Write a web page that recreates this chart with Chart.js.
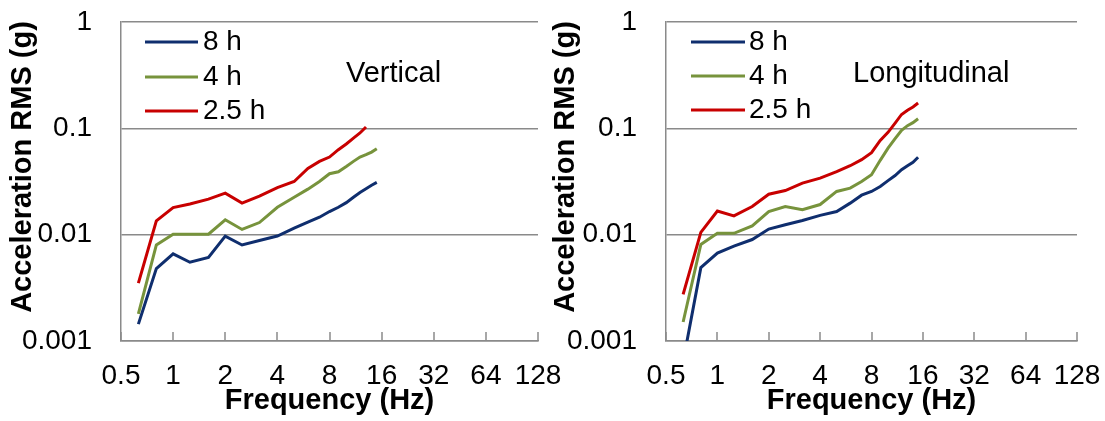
<!DOCTYPE html>
<html><head><meta charset="utf-8">
<script src="https://cdn.jsdelivr.net/npm/chart.js@4.4.1/dist/chart.umd.min.js"></script>
<style>
html,body{margin:0;padding:0;background:#fff;}
#wrap{position:relative;width:1105px;height:421px;overflow:hidden;background:#fff;}
canvas{position:absolute;top:0;}
</style></head><body>
<div id="wrap">
<canvas id="c1" width="570" height="421" style="left:0px"></canvas>
<canvas id="c2" width="560" height="421" style="left:545px"></canvas>
</div>
<script>
// ---- data ----
const freqHz = [0.63, 0.8, 1, 1.25, 1.6, 2, 2.5, 3.15, 4, 5, 6, 7, 8, 9, 10, 11, 12, 13, 14, 15];
const xTickValues = [0.5, 1, 2, 4, 8, 16, 32, 64, 128];
const xTickLabels = ['0.5', '1', '2', '4', '8', '16', '32', '64', '128'];
const yTickValues = [0.001, 0.01, 0.1, 1];
const yTickLabels = ['0.001', '0.01', '0.1', '1'];
const seriesNames = ['8 h', '4 h', '2.5 h'];

const vertical8h   = [0.00144, 0.0048, 0.0066, 0.0055, 0.0061, 0.0097, 0.0080, 0.0088, 0.0097, 0.0115, 0.0131, 0.0146, 0.0165, 0.0181, 0.0200, 0.0225, 0.0249, 0.0270, 0.0292, 0.0310];
const vertical4h   = [0.0018, 0.0080, 0.0101, 0.0101, 0.0101, 0.0138, 0.0112, 0.0130, 0.0181, 0.0225, 0.0268, 0.0316, 0.0374, 0.0390, 0.0438, 0.0489, 0.0537, 0.0565, 0.0598, 0.0643];
const vertical2_5h = [0.0035, 0.0135, 0.0180, 0.0194, 0.0216, 0.0246, 0.0198, 0.0230, 0.0277, 0.0316, 0.0420, 0.0489, 0.0537, 0.0630, 0.0713, 0.0810, 0.0905, 0.1030, null, null];

const longitudinal8h   = [0.00064, 0.0049, 0.0067, 0.0078, 0.0090, 0.0113, 0.0124, 0.0136, 0.0152, 0.0165, 0.0198, 0.0235, 0.0255, 0.0284, 0.0322, 0.0360, 0.0408, 0.0445, 0.0480, 0.0535];
const longitudinal4h   = [0.00151, 0.0081, 0.0103, 0.0103, 0.0121, 0.0165, 0.0184, 0.0172, 0.0192, 0.0255, 0.0274, 0.0316, 0.0366, 0.0500, 0.0650, 0.0800, 0.0960, 0.1060, 0.1130, 0.1230];
const longitudinal2_5h = [0.00274, 0.0105, 0.0167, 0.0150, 0.0184, 0.0240, 0.0260, 0.0305, 0.0340, 0.0392, 0.0445, 0.0507, 0.0590, 0.0770, 0.0917, 0.1120, 0.1350, 0.1480, 0.1590, 0.1730];

// ---- style ----
const FONT = '"Liberation Sans", Arial, Helvetica, sans-serif';
const seriesColors = ['#0f2e6e', '#77933c', '#c80000'];
const gridColor = '#8a8a8a';

const decoPlugin = {
  id: 'deco',
  beforeDatasetsDraw(chart, args, o) {
    const xs = chart.scales.x, ca = chart.chartArea, ctx = chart.ctx;
    ctx.save();
    ctx.strokeStyle = gridColor;
    ctx.lineWidth = 1.5;
    xTickValues.forEach(v => {
      const px = Math.round(xs.getPixelForValue(v));
      ctx.beginPath();
      ctx.moveTo(px, ca.bottom);
      ctx.lineTo(px, ca.bottom - 9);
      ctx.stroke();
    });
    ctx.restore();
  },
  afterDraw(chart, args, o) {
    const ctx = chart.ctx;
    ctx.save();
    // legend
    ctx.font = '28px ' + FONT;
    ctx.textBaseline = 'middle';
    ctx.textAlign = 'left';
    chart.data.datasets.forEach((ds, i) => {
      const y = o.legY[i];
      ctx.strokeStyle = ds.borderColor;
      ctx.lineWidth = 3;
      ctx.beginPath();
      ctx.moveTo(o.legX1, y);
      ctx.lineTo(o.legX2, y);
      ctx.stroke();
      ctx.fillStyle = '#000';
      ctx.fillText(ds.label, o.legTextX, y);
    });
    // note
    ctx.font = '29px ' + FONT;
    ctx.textBaseline = 'alphabetic';
    ctx.fillText(o.note, o.noteX, o.noteY);
    // y title
    ctx.translate(o.yTitleX, o.yTitleY);
    ctx.rotate(-Math.PI / 2);
    ctx.font = 'bold 29px ' + FONT;
    ctx.textAlign = 'center';
    ctx.textBaseline = 'middle';
    ctx.fillText(o.yTitle, 0, 0);
    ctx.restore();
  }
};

function makeChart(id, series, padRight, deco) {
  return new Chart(document.getElementById(id), {
    type: 'line',
    data: {
      datasets: series.map((vals, i) => ({
        label: seriesNames[i],
        data: freqHz.map((f, j) => ({ x: f, y: vals[j] })),
        borderColor: seriesColors[i],
        backgroundColor: seriesColors[i],
        borderWidth: 3,
        pointRadius: 0,
        tension: 0,
        fill: false,
        order: 3 - i
      }))
    },
    options: {
      responsive: false,
      animation: false,
      devicePixelRatio: 1,
      layout: { padding: { top: 22, right: padRight, bottom: 0, left: 0 } },
      plugins: { legend: { display: false }, tooltip: { enabled: false }, deco: deco },
      scales: {
        x: {
          type: 'logarithmic', position: 'bottom', min: 0.5, max: 128,
          afterBuildTicks: s => { s.ticks = xTickValues.map(v => ({ value: v })); },
          afterFit: s => { s.height = 80; },
          ticks: {
            autoSkip: false, maxRotation: 0, minRotation: 0, padding: 0, color: '#000',
            font: { family: FONT, size: 28 },
            callback: v => xTickLabels[xTickValues.indexOf(v)]
          },
          grid: { drawOnChartArea: false, drawTicks: true, tickLength: 18, tickColor: 'rgba(0,0,0,0)', color: gridColor },
          border: { display: true, color: gridColor, width: 1.5 },
          title: { display: true, text: 'Frequency (Hz)', color: '#000',
                   font: { family: FONT, size: 29, weight: 'bold' }, padding: { top: 0, bottom: 3 } }
        },
        y: {
          type: 'logarithmic', position: 'left', min: 0.001, max: 1,
          afterBuildTicks: s => { s.ticks = yTickValues.map(v => ({ value: v })); },
          afterFit: s => { s.width = 121; },
          ticks: {
            autoSkip: false, padding: 0, color: '#000',
            font: { family: FONT, size: 28 },
            callback: v => yTickLabels[yTickValues.indexOf(v)]
          },
          grid: { drawTicks: true, tickLength: 29, tickColor: 'rgba(0,0,0,0)', color: gridColor, lineWidth: 1.5 },
          border: { display: true, color: gridColor, width: 1.5 }
        }
      }
    },
    plugins: [decoPlugin]
  });
}

makeChart('c1', [vertical8h, vertical4h, vertical2_5h], 32, {
  legX1: 145, legX2: 198, legTextX: 203, legY: [42, 77, 111],
  note: 'Vertical', noteX: 346, noteY: 82,
  yTitle: 'Acceleration RMS (g)', yTitleX: 23, yTitleY: 167
});
makeChart('c2', [longitudinal8h, longitudinal4h, longitudinal2_5h], 28, {
  legX1: 146, legX2: 200, legTextX: 204, legY: [42, 76, 110],
  note: 'Longitudinal', noteX: 308, noteY: 82,
  yTitle: 'Acceleration RMS (g)', yTitleX: 21, yTitleY: 167
});
</script></body></html>
